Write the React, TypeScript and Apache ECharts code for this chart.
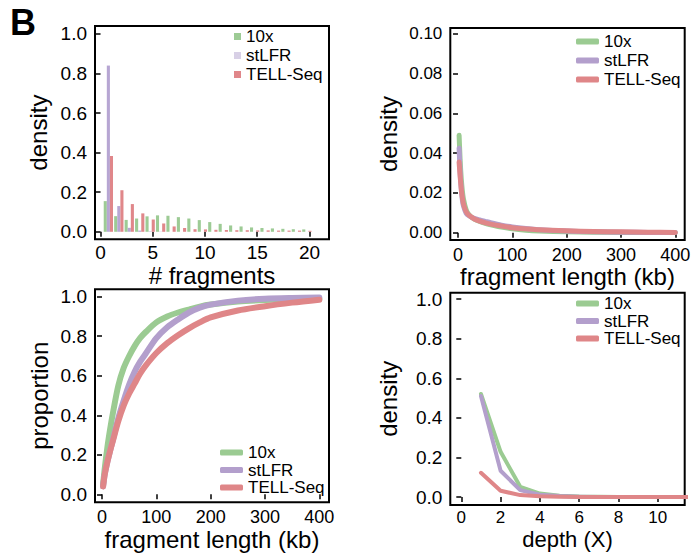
import React, { useEffect, useRef } from 'react';
import * as echarts from 'echarts';

const FONT = '"Liberation Sans", Arial, Helvetica, sans-serif';

// ---------- data ----------
const seriesNames = ['10x', 'stLFR', 'TELL-Seq'];
const barColors = ['#9dcb95', '#b7a6d3', '#e0878a'];
const legendBarColors = ['#9dcb95', '#d8d0e6', '#e0878a'];
const lineColors = ['#9bcb92', '#b39fcc', '#df8688'];

// panel 1: # fragments histogram
const fragmentCounts = [1, 2, 3, 4, 5, 6, 7, 8, 9, 10, 11, 12, 13, 14, 15, 16, 17, 18, 19, 20];
const fragDensity10x = [0.155, 0.079, 0.06, 0.067, 0.078, 0.083, 0.081, 0.074, 0.067, 0.059, 0.049, 0.04, 0.032, 0.027, 0.022, 0.019, 0.017, 0.015, 0.013, 0.012];
const fragDensityStLFR = [0.84, 0.13, 0.02, 0.006, 0.002, 0.001, 0, 0, 0, 0, 0, 0, 0, 0, 0, 0, 0, 0, 0, 0];
const fragDensityTell = [0.383, 0.21, 0.14, 0.093, 0.062, 0.042, 0.027, 0.019, 0.013, 0.012, 0.01, 0.009, 0.008, 0.008, 0.007, 0.007, 0.006, 0.006, 0.006, 0.005];

// panel 2: fragment length density
const lengthKb = [2, 4, 6, 8, 10, 15, 20, 30, 40, 50, 60, 80, 100, 125, 150, 200, 250, 300, 350, 400];
const lenDensity10x = [0.049, 0.036, 0.027, 0.021, 0.017, 0.0115, 0.009, 0.0068, 0.0056, 0.0047, 0.004, 0.0028, 0.0019, 0.0012, 0.0008, 0.0004, 0.0002, 0.0001, 0.00005, 0.00002];
const lenDensityStLFR = [0.0425, 0.03, 0.022, 0.0165, 0.0135, 0.0098, 0.0085, 0.0072, 0.0064, 0.0057, 0.005, 0.0038, 0.0029, 0.0021, 0.0015, 0.0008, 0.0004, 0.0002, 0.0001, 0.00005];
const lenDensityTell = [0.0355, 0.028, 0.022, 0.0175, 0.0145, 0.0105, 0.0088, 0.0069, 0.0058, 0.005, 0.0043, 0.0033, 0.0025, 0.0019, 0.0014, 0.0009, 0.0006, 0.0004, 0.0002, 0.0001];

// panel 3: cumulative proportion
const cdfKb = [2, 5, 10, 15, 20, 30, 40, 50, 60, 70, 80, 100, 120, 140, 160, 180, 200, 250, 300, 350, 400];
const cdf10x = [0.05, 0.13, 0.24, 0.33, 0.41, 0.55, 0.64, 0.7, 0.75, 0.79, 0.82, 0.87, 0.9, 0.92, 0.935, 0.95, 0.96, 0.975, 0.983, 0.988, 0.99];
const cdfStLFR = [0.04, 0.1, 0.165, 0.222, 0.275, 0.385, 0.475, 0.555, 0.62, 0.67, 0.71, 0.79, 0.845, 0.885, 0.92, 0.945, 0.96, 0.98, 0.99, 0.994, 0.996];
const cdfTell = [0.04, 0.1, 0.165, 0.22, 0.27, 0.37, 0.45, 0.51, 0.56, 0.61, 0.65, 0.715, 0.765, 0.805, 0.84, 0.87, 0.895, 0.93, 0.952, 0.97, 0.985];

// panel 4: depth density
const depthX = [1, 2, 3, 4, 5, 6, 7, 8, 9, 10, 11, 12];
const depth10x = [0.521, 0.229, 0.052, 0.018, 0.007, 0.003, 0.002, 0.001, 0.001, 0, 0, 0];
const depthStLFR = [0.511, 0.133, 0.035, 0.012, 0.005, 0.002, 0.001, 0.001, 0, 0, 0, 0];
const depthTell = [0.123, 0.032, 0.01, 0.004, 0.002, 0.001, 0.001, 0, 0, 0, 0, 0];

// tick labels
const fragTicksX = [0, 5, 10, 15, 20];
const unitTicksY = [0, 0.2, 0.4, 0.6, 0.8, 1.0];
const lenTicksX = [0, 100, 200, 300, 400];
const lenDensityTicksY = [0, 0.02, 0.04, 0.06, 0.08, 0.1];
const depthTicksX = [0, 2, 4, 6, 8, 10];

function axis(
  gridIndex: number,
  min: number,
  max: number,
  ticks: number[],
  digits: number,
  name: string,
  nameGap: number,
  labelSize: number,
  labelMargin: number,
  moveOverlap: boolean,
  nameSize = 24
) {
  return {
    type: 'value',
    gridIndex,
    min,
    max,
    name,
    nameLocation: 'middle',
    nameGap,
    nameMoveOverlap: moveOverlap,
    nameTextStyle: { fontSize: nameSize, color: '#000', fontFamily: FONT },
    axisLine: { show: false },
    axisTick: {
      show: true,
      length: 5,
      lineStyle: { color: '#000', width: 1.5 },
      customValues: ticks,
    },
    axisLabel: {
      show: true,
      color: '#000',
      fontSize: labelSize,
      fontFamily: FONT,
      margin: labelMargin,
      customValues: ticks,
      formatter: (v: number) => v.toFixed(digits),
    },
    splitLine: { show: false },
  };
}

function lineLegend(left: number, top: number, gap: number) {
  return {
    orient: 'vertical',
    left,
    top,
    padding: 0,
    itemGap: gap,
    itemWidth: 23,
    itemHeight: 6,
    textStyle: { fontSize: 17, color: '#000', fontFamily: FONT },
    data: seriesNames.map((name, i) => ({
      name,
      icon: 'roundRect',
      itemStyle: { color: lineColors[i], borderWidth: 0 },
    })),
  };
}

export default function App() {
  const ref = useRef<HTMLDivElement>(null);

  useEffect(() => {
    document.body.style.margin = '0';
    if (!ref.current) return;
    const chart = echarts.init(ref.current, undefined, { renderer: 'svg' });

    const gridBase = {
      show: true,
      borderColor: '#000',
      borderWidth: 2,
      backgroundColor: 'transparent',
      containLabel: false,
      outerBoundsMode: 'none',
    };

    const fragSets = [fragDensity10x, fragDensityStLFR, fragDensityTell];
    const lenSets = [lenDensity10x, lenDensityStLFR, lenDensityTell];
    const cdfSets = [cdf10x, cdfStLFR, cdfTell];
    const depthSets = [depth10x, depthStLFR, depthTell];

    const series: any[] = [];
    seriesNames.forEach((name, i) => {
      series.push({
        type: 'bar',
        name,
        xAxisIndex: 0,
        yAxisIndex: 0,
        barWidth: 3.1,
        barGap: '0%',
        itemStyle: { color: barColors[i] },
        data: fragmentCounts.map((n, j) => [n - 0.25, fragSets[i][j]]),
      });
    });
    seriesNames.forEach((name, i) => {
      series.push({
        type: 'line',
        name,
        xAxisIndex: 1,
        yAxisIndex: 1,
        showSymbol: false,
        smooth: 0.3,
        lineStyle: { color: lineColors[i], width: 5, cap: 'round', join: 'round' },
        itemStyle: { color: lineColors[i] },
        data: lengthKb.map((k, j) => [k, lenSets[i][j]]),
      });
    });
    seriesNames.forEach((name, i) => {
      series.push({
        type: 'line',
        name,
        xAxisIndex: 2,
        yAxisIndex: 2,
        showSymbol: false,
        smooth: 0.3,
        lineStyle: { color: lineColors[i], width: 6, cap: 'round', join: 'round' },
        itemStyle: { color: lineColors[i] },
        data: cdfKb.map((k, j) => [k, cdfSets[i][j]]),
      });
    });
    seriesNames.forEach((name, i) => {
      series.push({
        type: 'line',
        name,
        xAxisIndex: 3,
        yAxisIndex: 3,
        showSymbol: false,
        smooth: false,
        lineStyle: { color: lineColors[i], width: 4, cap: 'round', join: 'round' },
        itemStyle: { color: lineColors[i] },
        data: depthX.map((d, j) => [d, depthSets[i][j]]),
      });
    });

    chart.setOption({
      animation: false,
      backgroundColor: '#fff',
      textStyle: { fontFamily: FONT },
      grid: [
        { ...gridBase, left: 95, top: 26, width: 234, height: 213.3 },
        { ...gridBase, left: 450.3, top: 28, width: 234.4, height: 212 },
        { ...gridBase, left: 95, top: 289.3, width: 234, height: 213 },
        { ...gridBase, left: 450.3, top: 292.7, width: 234.4, height: 212.3 },
      ],
      xAxis: [
        axis(0, -0.53, 21.87, fragTicksX, 0, '# fragments', 18, 19, 4, true),
        axis(1, -14.2, 417.3, lenTicksX, 0, 'fragment length (kb)', 15, 18, 6, true),
        axis(2, -12.9, 417.8, lenTicksX, 0, 'fragment length (kb)', 19, 18, 6, true),
        axis(3, -0.56, 11.37, depthTicksX, 0, 'depth (X)', 23, 17, 4, false, 22),
      ],
      yAxis: [
        axis(0, -0.038, 1.04, unitTicksY, 1, 'density', 45, 19, 8, true),
        axis(1, -0.0037, 0.103, lenDensityTicksY, 2, 'density', 50, 17, 8, true),
        axis(2, -0.0405, 1.0374, unitTicksY, 1, 'proportion', 44, 19, 8, true),
        axis(3, -0.04, 1.033, unitTicksY, 1, 'density', 50, 19, 8, true),
      ],
      legend: [
        {
          orient: 'vertical',
          left: 234,
          top: 28,
          padding: 0,
          itemGap: 2,
          itemWidth: 7,
          itemHeight: 7,
          textStyle: { fontSize: 17, color: '#000', fontFamily: FONT },
          data: seriesNames.map((name, i) => ({
            name,
            icon: 'rect',
            itemStyle: { color: legendBarColors[i], borderWidth: 0 },
          })),
        },
        lineLegend(576, 33, 2),
        lineLegend(220, 444, 0.5),
        lineLegend(576, 295, 0.5),
      ],
      graphic: [
        {
          type: 'text',
          left: 10,
          top: 4,
          style: { text: 'B', fontSize: 36, fontWeight: 'bold', fill: '#000', fontFamily: FONT },
        },
      ],
      series,
    });

    return () => chart.dispose();
  }, []);

  return <div ref={ref} style={{ width: 694, height: 553 }} />;
}
